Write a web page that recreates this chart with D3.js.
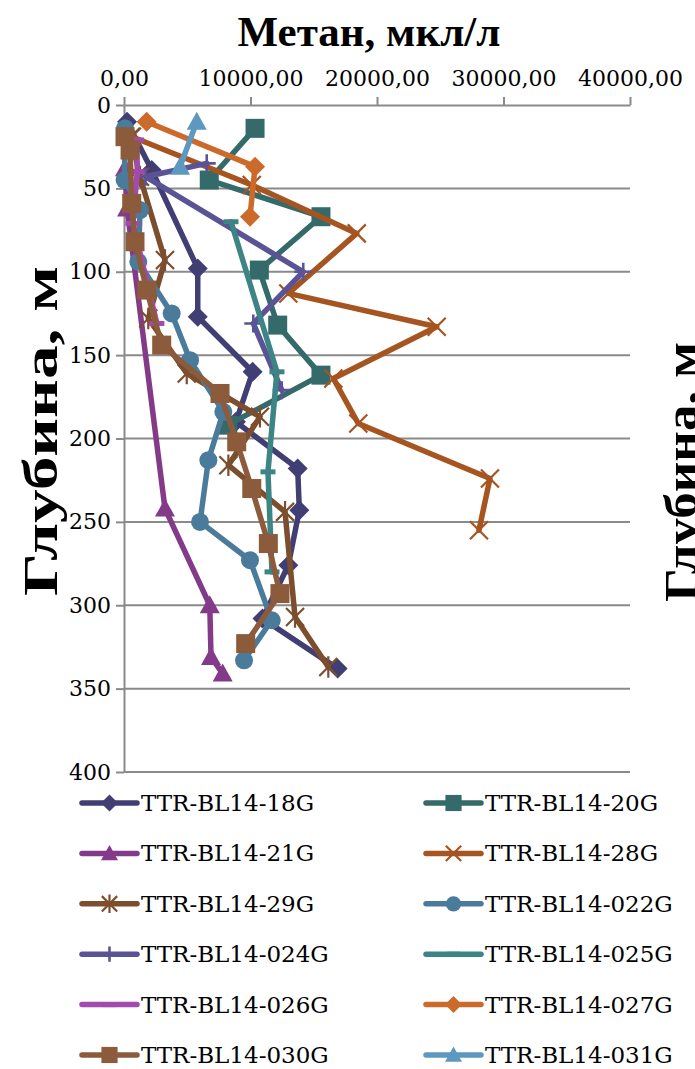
<!DOCTYPE html>
<html>
<head>
<meta charset="utf-8">
<script src="https://cdn.jsdelivr.net/npm/d3@7"></script>
<style>
  html, body { margin: 0; padding: 0; background: #fff; }
  svg { display: block; }
</style>
</head>
<body>
<svg id="chart" width="695" height="1069"></svg>
<script>
// Methane concentration (мкл/л) against depth (м) for each core
const seriesNames = [
  "TTR-BL14-18G", "TTR-BL14-20G", "TTR-BL14-21G", "TTR-BL14-28G",
  "TTR-BL14-29G", "TTR-BL14-022G", "TTR-BL14-024G", "TTR-BL14-025G",
  "TTR-BL14-026G", "TTR-BL14-027G", "TTR-BL14-030G", "TTR-BL14-031G"
];

const depth18G   = [10, 39, 98, 127, 160, 190, 218, 243, 276, 308, 338];
const methane18G = [240, 2190, 5830, 5830, 10170, 8850, 13730, 13860, 12990, 10950, 16890];

const depth20G   = [14, 45, 67, 99, 132, 162, 192];
const methane20G = [10360, 6740, 15570, 10700, 12150, 15570, 8200];

const depth21G   = [38, 62, 242, 300, 331, 341];
const methane21G = [80, 240, 3240, 6780, 6880, 7800];

const depth28G   = [19, 48, 77, 113, 133, 164, 191, 224, 255];
const methane28G = [630, 10100, 18400, 12990, 24720, 16550, 18520, 28930, 28060];

const depth29G   = [19, 43, 93, 128, 161, 187, 216, 244, 307, 337];
const methane29G = [550, 1260, 3240, 1920, 4960, 10750, 8250, 12730, 13520, 16150];

const depth022G   = [14, 45, 63, 94, 125, 153, 184, 213, 250, 273, 309, 333];
const methane022G = [80, 50, 1270, 1130, 3770, 5220, 7850, 6670, 6010, 9960, 11680, 9490];

const depth024G   = [35, 43, 100, 131, 171];
const methane024G = [6540, 1700, 14170, 10220, 12470];

const depth025G   = [70, 160, 220, 280];
const methane025G = [8460, 12090, 11380, 11700];

const depth026G   = [21, 40, 71, 131];
const methane026G = [1000, 1050, 700, 2600];

const depth027G   = [10, 37, 67];
const methane027G = [1790, 10360, 9960];

const depth030G   = [19, 27, 59, 82, 111, 144, 173, 202, 230, 263, 293, 323];
const methane030G = [80, 480, 610, 870, 1800, 2980, 7590, 8910, 10100, 11410, 12330, 9620];

const depth031G   = [10, 37];
const methane031G = [5750, 4430];

const xTicks = [0, 10000, 20000, 30000, 40000];
const yTicks = [0, 50, 100, 150, 200, 250, 300, 350, 400];

const chartTitle = "Метан, мкл/л";
const depthTitle = "Глубина, м";

// ---- series styling ----
const seriesColors = [
  "#413E74", "#356A6A", "#833B89", "#A65420",
  "#7C4E2D", "#4B7B9B", "#5A5396", "#3D8484",
  "#A24AAE", "#CC6A2B", "#8C5B3B", "#5C98BF"
];
const seriesMarkers = [
  "diamond", "square", "triangle", "x",
  "star", "circle", "plus", "dash",
  "dash", "diamond", "square", "triangle"
];
const seriesDepths = [depth18G, depth20G, depth21G, depth28G, depth29G, depth022G,
  depth024G, depth025G, depth026G, depth027G, depth030G, depth031G];
const seriesValues = [methane18G, methane20G, methane21G, methane28G, methane29G, methane022G,
  methane024G, methane025G, methane026G, methane027G, methane030G, methane031G];

const series = seriesNames.map((name, i) => ({
  name,
  color: seriesColors[i],
  marker: seriesMarkers[i],
  points: seriesDepths[i].map((d, j) => ({ depth: d, value: seriesValues[i][j] }))
}));

const svg = d3.select("#chart");
const W = 695, H = 1069;
svg.append("rect").attr("width", W).attr("height", H).attr("fill", "#fff");

const plot = { left: 124, right: 630, top: 105, bottom: 772 };
const x = d3.scaleLinear().domain([0, 40000]).range([plot.left, plot.right]);
const y = d3.scaleLinear().domain([0, 400]).range([plot.top, plot.bottom]);

const gridColor = "#8a8a8a";
const tickFont = "'DejaVu Serif', serif";
const titleFont = "'Liberation Serif', 'Times New Roman', serif";

// horizontal gridlines
svg.append("g")
  .selectAll("line")
  .data(yTicks.filter(d => d > 0))
  .join("line")
  .attr("x1", plot.left).attr("x2", plot.right)
  .attr("y1", d => y(d)).attr("y2", d => y(d))
  .attr("stroke", gridColor).attr("stroke-width", 2);

// top value axis
const fmt = d => d3.format(".2f")(d).replace(".", ",");
const xAxis = svg.append("g")
  .attr("transform", `translate(0,${plot.top})`)
  .call(d3.axisTop(x).tickValues(xTicks).tickFormat(fmt).tickSize(8).tickSizeOuter(0).tickPadding(11));
xAxis.select(".domain").attr("stroke", gridColor).attr("stroke-width", 2);
xAxis.selectAll(".tick line").attr("stroke", gridColor).attr("stroke-width", 2);
xAxis.selectAll(".tick text")
  .attr("font-family", tickFont).attr("font-size", 22).attr("fill", "#000");

// left depth axis
const yAxis = svg.append("g")
  .attr("transform", `translate(${plot.left},0)`)
  .call(d3.axisLeft(y).tickValues(yTicks).tickSize(8).tickSizeOuter(0).tickPadding(5));
yAxis.select(".domain").attr("stroke", gridColor).attr("stroke-width", 2);
yAxis.selectAll(".tick line").attr("stroke", gridColor).attr("stroke-width", 2);
yAxis.selectAll(".tick text")
  .attr("font-family", tickFont).attr("font-size", 22).attr("fill", "#000");

// titles
svg.append("text")
  .attr("x", 369).attr("y", 46)
  .attr("text-anchor", "middle")
  .attr("font-family", titleFont)
  .attr("font-weight", "bold").attr("font-size", 43)
  .text(chartTitle);

svg.append("text")
  .attr("transform", "translate(57,431) rotate(-90)")
  .attr("text-anchor", "middle")
  .attr("font-family", titleFont)
  .attr("font-weight", "bold").attr("font-size", 48)
  .attr("textLength", 330).attr("lengthAdjust", "spacingAndGlyphs")
  .text(depthTitle);

// neighbouring panel's depth title, cut by the right edge
svg.append("text")
  .attr("transform", "translate(697,472) rotate(-90)")
  .attr("text-anchor", "middle")
  .attr("font-family", titleFont)
  .attr("font-weight", "bold").attr("font-size", 46)
  .attr("textLength", 260).attr("lengthAdjust", "spacingAndGlyphs")
  .text(depthTitle);

// ---- markers ----
function drawMarker(g, type, color, cx, cy, scale = 1) {
  const s = scale;
  switch (type) {
    case "diamond": {
      const r = 10 * s;
      g.append("path").attr("d", `M${cx},${cy - r}L${cx + r},${cy}L${cx},${cy + r}L${cx - r},${cy}Z`)
        .attr("fill", color);
      break;
    }
    case "square": {
      const r = 9.5 * s;
      g.append("rect").attr("x", cx - r).attr("y", cy - r).attr("width", 2 * r).attr("height", 2 * r)
        .attr("fill", color);
      break;
    }
    case "triangle": {
      const r = 10 * s;
      g.append("path").attr("d", `M${cx},${cy - r}L${cx + r},${cy + r * 0.8}L${cx - r},${cy + r * 0.8}Z`)
        .attr("fill", color);
      break;
    }
    case "circle":
      g.append("circle").attr("cx", cx).attr("cy", cy).attr("r", 9 * s).attr("fill", color);
      break;
    case "x": {
      const r = 9 * s;
      g.append("path").attr("d", `M${cx - r},${cy - r}L${cx + r},${cy + r}M${cx - r},${cy + r}L${cx + r},${cy - r}`)
        .attr("stroke", color).attr("stroke-width", 2.2).attr("fill", "none");
      break;
    }
    case "star": {
      const r = 9 * s;
      g.append("path").attr("d", `M${cx - r},${cy - r}L${cx + r},${cy + r}M${cx - r},${cy + r}L${cx + r},${cy - r}M${cx},${cy - r * 1.2}L${cx},${cy + r * 1.2}`)
        .attr("stroke", color).attr("stroke-width", 2.2).attr("fill", "none");
      break;
    }
    case "plus": {
      const r = 9 * s;
      g.append("path").attr("d", `M${cx - r},${cy}L${cx + r},${cy}M${cx},${cy - r}L${cx},${cy + r}`)
        .attr("stroke", color).attr("stroke-width", 2.6).attr("fill", "none");
      break;
    }
    case "dash": {
      const r = 7.5 * s;
      g.append("path").attr("d", `M${cx - r},${cy}L${cx + r},${cy}`)
        .attr("stroke", color).attr("stroke-width", 5).attr("fill", "none");
      break;
    }
  }
}

// ---- series lines and markers ----
const line = d3.line().x(d => x(d.value)).y(d => y(d.depth));
const seriesLayer = svg.append("g");
series.forEach(s => {
  const g = seriesLayer.append("g");
  g.append("path")
    .attr("d", line(s.points))
    .attr("fill", "none")
    .attr("stroke", s.color)
    .attr("stroke-width", 5.5)
    .attr("stroke-linejoin", "round")
    .attr("stroke-linecap", "round");
  s.points.forEach(p => drawMarker(g, s.marker, s.color, x(p.value), y(p.depth)));
});

// ---- legend ----
const legendCols = [82, 426];
const legendTop = 803, legendStep = 50.4;
const legend = svg.append("g");
series.forEach((s, i) => {
  const col = i % 2, row = Math.floor(i / 2);
  const lx = legendCols[col], ly = legendTop + row * legendStep;
  const g = legend.append("g");
  g.append("line")
    .attr("x1", lx).attr("x2", lx + 55).attr("y1", ly).attr("y2", ly)
    .attr("stroke", s.color).attr("stroke-width", 5.5).attr("stroke-linecap", "round");
  drawMarker(g, s.marker, s.color, lx + 27.5, ly, 0.85);
  g.append("text")
    .attr("x", lx + 59).attr("y", ly + 8)
    .attr("font-family", tickFont).attr("font-size", 23)
    .attr("fill", "#000")
    .text(s.name);
});
</script>
</body>
</html>
